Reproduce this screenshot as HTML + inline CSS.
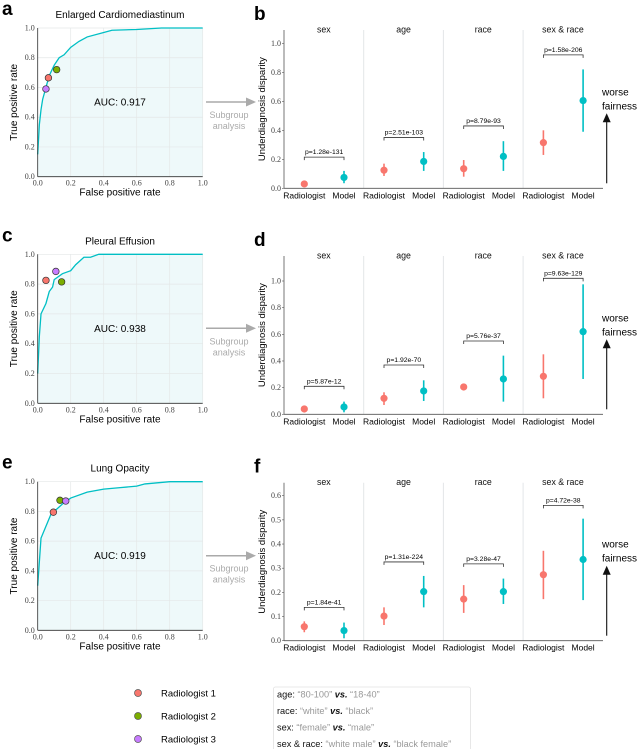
<!DOCTYPE html>
<html><head><meta charset="utf-8"><style>
html,body{margin:0;padding:0;background:#fff;width:640px;height:749px;overflow:hidden}
svg{display:block;font-family:"Liberation Sans",sans-serif}
.tk{font-family:"Liberation Serif",serif;font-size:8px;fill:#444}
</style></head><body>
<svg id="fig" width="640" height="749" viewBox="0 0 640 749" xmlns="http://www.w3.org/2000/svg"></svg>
<script>
// ROC data
const rocA_fpr=[0,0.01,0.02,0.03,0.05,0.07,0.1,0.13,0.16,0.2,0.25,0.3,0.4,0.45,0.6,0.75,1];
const rocA_tpr=[0.15,0.35,0.45,0.52,0.6,0.68,0.75,0.8,0.82,0.87,0.91,0.94,0.97,0.985,0.99,1,1];
const rocC_fpr=[0,0.01,0.02,0.05,0.07,0.09,0.1,0.15,0.2,0.23,0.28,0.32,0.37,1];
const rocC_tpr=[0.2,0.45,0.6,0.67,0.75,0.78,0.83,0.87,0.89,0.93,0.98,0.98,1,1];
const rocE_fpr=[0,0.02,0.05,0.08,0.1,0.15,0.2,0.3,0.4,0.5,0.6,0.65,0.8,1];
const rocE_tpr=[0.3,0.62,0.7,0.78,0.8,0.85,0.89,0.93,0.95,0.96,0.97,0.985,1,1];
const radA_fpr=[0.065,0.115,0.05], radA_tpr=[0.665,0.72,0.59];
const radC_fpr=[0.05,0.145,0.11], radC_tpr=[0.825,0.815,0.885];
const radE_fpr=[0.095,0.135,0.17], radE_tpr=[0.795,0.875,0.87];
const aucLabels=["AUC: 0.917","AUC: 0.938","AUC: 0.919"];
const rocTitles=["Enlarged Cardiomediastinum","Pleural Effusion","Lung Opacity"];
const rocTicks=[0,0.2,0.4,0.6,0.8,1.0];
// disparity data
const facets=["sex","age","race","sex & race"];
const b_rad=[0.03,0.125,0.135,0.315], b_radLo=[0.03,0.085,0.08,0.23], b_radHi=[0.03,0.17,0.195,0.4];
const b_mod=[0.075,0.185,0.22,0.605], b_modLo=[0.035,0.12,0.12,0.39], b_modHi=[0.12,0.25,0.325,0.82];
const b_brk=[0.215,0.35,0.43,0.92], b_p=["p=1.28e-131","p=2.51e-103","p=8.79e-93","p=1.58e-206"];
const d_rad=[0.04,0.12,0.205,0.285], d_radLo=[0.04,0.07,0.18,0.12], d_radHi=[0.04,0.165,0.23,0.45];
const d_mod=[0.055,0.175,0.265,0.62], d_modLo=[0.015,0.1,0.095,0.265], d_modHi=[0.095,0.255,0.44,0.975];
const d_brk=[0.21,0.37,0.55,1.02], d_p=["p=5.87e-12","p=1.92e-70","p=5.76e-37","p=9.63e-129"];
const f_rad=[0.058,0.102,0.172,0.273], f_radLo=[0.035,0.065,0.115,0.172], f_radHi=[0.08,0.138,0.23,0.372];
const f_mod=[0.042,0.203,0.203,0.336], f_modLo=[0.01,0.138,0.152,0.168], f_modHi=[0.075,0.268,0.257,0.505];
const f_brk=[0.138,0.326,0.318,0.56], f_p=["p=1.84e-41","p=1.31e-224","p=3.28e-47","p=4.72e-38"];
const ticks1=[0,0.2,0.4,0.6,0.8,1.0], ticks2=[0,0.1,0.2,0.3,0.4,0.5,0.6];

const RED="#F8766D",GRN="#7CAE00",PUR="#C77CFF",CYN="#00BFC4";
const radColors=[RED,GRN,PUR];
const svg=document.getElementById('fig');
const NS="http://www.w3.org/2000/svg";
function mk(tag,attrs,parent){const e=document.createElementNS(NS,tag);for(const k in attrs)e.setAttribute(k,attrs[k]);(parent||svg).appendChild(e);return e;}
function txt(s,x,y,attrs,parent){const e=mk('text',Object.assign({x:x,y:y},attrs||{}),parent);e.textContent=s;return e;}

function roc(idx,letter,top,bot,fpr,tpr,rf,rt){
  const g=mk('g',{});
  
  
  const x0=37.7,x1=202.7;
  const sx=v=>x0+v*(x1-x0), sy=v=>bot-v*(bot-top);
  txt(letter,2,top-13,{'font-size':'19px','font-weight':'bold'},g);
  const t=txt(rocTitles[idx],120,top-10,{'font-size':'10px','text-anchor':'middle'},g);
  
  
  let d='M'+sx(fpr[0])+','+sy(tpr[0]);
  for(let i=1;i<fpr.length;i++)d+=' L'+sx(fpr[i])+','+sy(tpr[i]);
  const area=mk('path',{d:d+' L'+sx(1)+','+sy(0)+' L'+sx(0)+','+sy(0)+' Z',fill:'#eef9fa'},g);
  
  
  for(const v of rocTicks){
    mk('line',{x1:sx(v),x2:sx(v),y1:top,y2:bot,stroke:'#e4e8e8','stroke-width':0.7},g);
    mk('line',{x1:x0,x2:x1,y1:sy(v),y2:sy(v),stroke:'#e4e8e8','stroke-width':0.7},g);
    txt(v.toFixed(1),x0-3,sy(v)+2.5,{class:'tk','text-anchor':'end'},g);
    txt(v.toFixed(1),sx(v),bot+9,{class:'tk','text-anchor':'middle'},g);
  }
  const line=mk('path',{d:d,fill:'none',stroke:CYN,'stroke-width':1.3},g);
  
  
  mk('line',{x1:x0,x2:x0,y1:top,y2:bot,stroke:'#333','stroke-width':0.8},g);
  mk('line',{x1:x0,x2:x1,y1:bot,y2:bot,stroke:'#333','stroke-width':0.8},g);
  for(let i=0;i<3;i++){
    const c=mk('circle',{cx:sx(rf[i]),cy:sy(rt[i]),r:3.3,fill:radColors[i],stroke:'#333','stroke-width':0.7},g);
    
    
  }
  const a=txt(aucLabels[idx],120,(top+bot)/2+3,{'font-size':'10px','text-anchor':'middle'},g);
  
  
  const xl=txt('False positive rate',120,bot+19,{'font-size':'10px','text-anchor':'middle'},g);
  
  
  const yl=txt('True positive rate',0,0,{'font-size':'10px','text-anchor':'middle',transform:`translate(17,${(top+bot)/2}) rotate(-90)`},g);
  
  
  const ay=top+74;
  const ar=mk('g',{},g);
  
  
  mk('line',{x1:206,x2:248,y1:ay,y2:ay,stroke:'#aaa','stroke-width':1.5},ar);
  mk('path',{d:`M256,${ay} L246,${ay-4.5} L246,${ay+4.5} Z`,fill:'#aaa'},ar);
  txt('Subgroup',229,ay+16,{'font-size':'9px','text-anchor':'middle',fill:'#aaa'},ar);
  txt('analysis',229,ay+27,{'font-size':'9px','text-anchor':'middle',fill:'#aaa'},ar);
}

function disp(letter,axTop,y0,yRef,vRef,ticks,rad,radLo,radHi,mod,modLo,modHi,brk,pv){
  const g=mk('g',{});
  
  
  const X0=284,X1=603,fw=79.7;
  const sy=v=>y0-v*(y0-yRef)/vRef;
  txt(letter,254,axTop-10,{'font-size':'19px','font-weight':'bold'},g);
  for(let f=1;f<4;f++)mk('line',{x1:X0+f*fw,x2:X0+f*fw,y1:axTop,y2:y0,stroke:'#e3e6e8','stroke-width':1},g);
  mk('line',{x1:X0,x2:X0,y1:axTop,y2:y0,stroke:'#555','stroke-width':0.8},g);
  mk('line',{x1:X0,x2:X1,y1:y0,y2:y0,stroke:'#555','stroke-width':0.8},g);
  for(const v of ticks){
    mk('line',{x1:X0-2,x2:X0,y1:sy(v),y2:sy(v),stroke:'#555','stroke-width':0.6},g);
    txt(v.toFixed(1),X0-3,sy(v)+2.5,{class:'tk','text-anchor':'end'},g);
  }
  const yl=txt('Underdiagnosis disparity',0,0,{'font-size':'9.5px','text-anchor':'middle',transform:`translate(265,${(axTop+y0)/2}) rotate(-90)`},g);
  
  
  for(let f=0;f<4;f++){
    const fx=X0+f*fw, xr=fx+20.3, xm=fx+60;
    const fl=txt(facets[f],fx+fw/2,axTop+2.5,{'font-size':'8.8px','text-anchor':'middle','fill':'#111'},g);
    
    
    txt('Radiologist',xr,y0+10,{'font-size':'8.5px','text-anchor':'middle'},g);
    txt('Model',xm,y0+10,{'font-size':'8.5px','text-anchor':'middle'},g);
    mk('line',{x1:xr,x2:xr,y1:sy(radLo[f]),y2:sy(radHi[f]),stroke:RED,'stroke-width':1.6},g);
    const cr=mk('circle',{cx:xr,cy:sy(rad[f]),r:3.6,fill:RED},g);
    
    
    mk('line',{x1:xm,x2:xm,y1:sy(modLo[f]),y2:sy(modHi[f]),stroke:CYN,'stroke-width':1.6},g);
    const cm=mk('circle',{cx:xm,cy:sy(mod[f]),r:3.6,fill:CYN},g);
    
    
    const by=sy(brk[f]);
    const br=mk('path',{d:`M${xr},${by+3} L${xr},${by} L${xm},${by} L${xm},${by+3}`,fill:'none',stroke:'#333','stroke-width':0.8},g);
    
    
    txt(pv[f],(xr+xm)/2,by-3,{'font-size':'6.8px','text-anchor':'middle'},g);
  }
  const wf=mk('g',{},g);
  
  
  const ab=y0-5;
  mk('line',{x1:606.7,x2:606.7,y1:ab,y2:ab-63,stroke:'#111','stroke-width':1.1},wf);
  mk('path',{d:`M606.7,${ab-70} L602.7,${ab-61} L610.7,${ab-61} Z`,fill:'#111'},wf);
  txt('worse',602,ab-88,{'font-size':'10px'},wf);
  txt('fairness',602,ab-74,{'font-size':'10px'},wf);
}

roc(0,'a',28,176.7,rocA_fpr,rocA_tpr,radA_fpr,radA_tpr);
roc(1,'c',254.3,403.3,rocC_fpr,rocC_tpr,radC_fpr,radC_tpr);
roc(2,'e',481.7,630.3,rocE_fpr,rocE_tpr,radE_fpr,radE_tpr);
disp('b',30,188.3,43.3,1.0,ticks1,b_rad,b_radLo,b_radHi,b_mod,b_modLo,b_modHi,b_brk,b_p);
disp('d',256,414.3,281,1.0,ticks1,d_rad,d_radLo,d_radHi,d_mod,d_modLo,d_modHi,d_brk,d_p);
disp('f',482.7,640.7,495.7,0.6,ticks2,f_rad,f_radLo,f_radHi,f_mod,f_modLo,f_modHi,f_brk,f_p);

const legNames=["Radiologist 1","Radiologist 2","Radiologist 3"];
const lg=mk('g',{});


for(let i=0;i<3;i++){
  const y=693+i*23;
  const c=mk('circle',{cx:138,cy:y,r:3.5,fill:radColors[i],stroke:'#555','stroke-width':0.7},lg);
  
  
  txt(legNames[i],161,y+3.5,{'font-size':'9.5px'},lg);
}
const kb=mk('g',{});


mk('rect',{x:273.5,y:687,width:197,height:70,fill:'#fff',stroke:'#e2e2e2','stroke-width':0.8,rx:2},kb);
const rows=[["age: ","\u201c80-100\u201d"," \u201c18-40\u201d"],["race: ","\u201cwhite\u201d"," \u201cblack\u201d"],["sex: ","\u201cfemale\u201d"," \u201cmale\u201d"],["sex & race: ","\u201cwhite male\u201d"," \u201cblack female\u201d"]];
rows.forEach((r,i)=>{
  const t=mk('text',{x:277,y:697.5+i*16.5,'font-size':'9.2px'},kb);
  const a=mk('tspan',{fill:'#111'},t);a.textContent=r[0];
  const b=mk('tspan',{fill:'#999'},t);b.textContent=r[1]+' ';
  const c=mk('tspan',{fill:'#111','font-style':'italic','font-weight':'bold'},t);c.textContent='vs.';
  const d=mk('tspan',{fill:'#999'},t);d.textContent=r[2];
});
</script>
</body></html>
